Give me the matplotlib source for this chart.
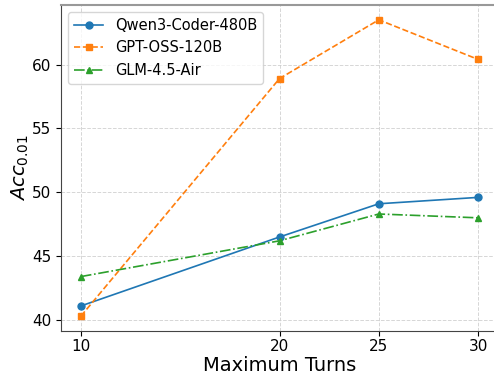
import matplotlib
matplotlib.use("Agg")
import matplotlib.pyplot as plt

turns = [10, 20, 25, 30]
qwen = [41.1, 46.5, 49.1, 49.6]
gpt = [40.3, 58.9, 63.5, 60.4]
glm = [43.4, 46.2, 48.3, 48.0]
labels = ["Qwen3-Coder-480B", "GPT-OSS-120B", "GLM-4.5-Air"]

fig = plt.figure(figsize=(4.94, 3.77), dpi=100)
ax = fig.add_axes([61/494, 46/377, 437/494, 326/377])

ax.plot(turns, qwen, color="#1f77b4", linestyle="-", marker="o", markersize=5, linewidth=1.2, label=labels[0])
ax.plot(turns, gpt, color="#ff7f0e", linestyle="--", marker="s", markersize=5, linewidth=1.2, label=labels[1])
ax.plot(turns, glm, color="#2ca02c", linestyle="-.", marker="^", markersize=5, linewidth=1.2, label=labels[2])

ax.set_xticks(turns)
ax.set_yticks([40, 45, 50, 55, 60])
ax.tick_params(labelsize=11)
ax.tick_params(axis="x", pad=2.5)
ax.grid(True, linestyle="--", color="#cccccc", linewidth=0.7, alpha=0.8)
ax.set_xlabel("Maximum Turns", fontsize=14, labelpad=1.5)
ax.set_ylabel(r"$Acc_{0.01}$", fontsize=14, labelpad=1)
for s in ax.spines.values():
    s.set_color("#444444")
ax.spines["top"].set_color("#999999")
ax.spines["top"].set_linewidth(1.5)
ax.spines["right"].set_visible(False)
ax.legend(fontsize=10.5, loc="upper left")

fig.savefig("out.png", dpi=100)
